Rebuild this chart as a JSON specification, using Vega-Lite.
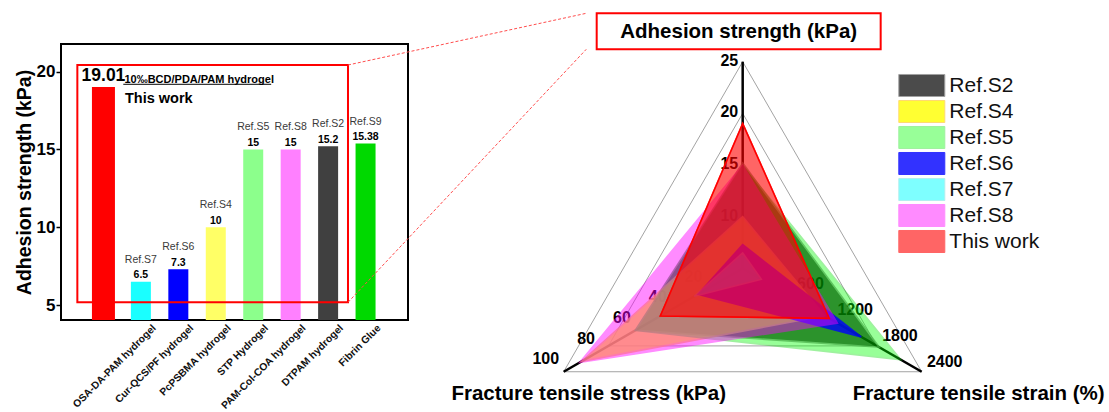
{
  "$schema": "https://vega.github.io/schema/vega-lite/v6.json",
  "autosize": "none",
  "padding": {"left": 61, "top": 44, "right": 701, "bottom": 92},
  "width": 347,
  "height": 276,
  "config": {
    "font": "Liberation Sans",
    "view": {"stroke": "#000000", "strokeWidth": 2},
    "text": {"font": "Liberation Sans"}
  },
  "datasets": {
    "bars": [
      {"idx": 1, "name": "", "ref": "This work", "value": 19.01, "desc": "10‰BCD/PDA/PAM hydrogel"},
      {"idx": 2, "name": "OSA-DA-PAM hydrogel", "ref": "Ref.S7", "value": 6.5},
      {"idx": 3, "name": "Cur-QCS/PF hydrogel", "ref": "Ref.S6", "value": 7.3},
      {"idx": 4, "name": "PcPSBMA hydrogel", "ref": "Ref.S4", "value": 10},
      {"idx": 5, "name": "STP Hydrogel", "ref": "Ref.S5", "value": 15},
      {"idx": 6, "name": "PAM-Col-COA hydrogel", "ref": "Ref.S8", "value": 15},
      {"idx": 7, "name": "DTPAM hydrogel", "ref": "Ref.S2", "value": 15.2},
      {"idx": 8, "name": "Fibrin Glue", "ref": "Ref.S9", "value": 15.38}
    ],
    "axes": [
      {"k": 0, "title": "Adhesion strength (kPa)"},
      {"k": 1, "title": "Fracture tensile stress (kPa)"},
      {"k": 2, "title": "Fracture tensile strain (%)"}
    ],
    "grid": [
      {"level": 0.75, "k": 0}, {"level": 0.75, "k": 1}, {"level": 0.75, "k": 2},
      {"level": 1, "k": 0}, {"level": 1, "k": 1}, {"level": 1, "k": 2}
    ],
    "ticks": [
      {"k": 0, "value": 10}, {"k": 0, "value": 15}, {"k": 0, "value": 20}, {"k": 0, "value": 25},
      {"k": 1, "value": 20}, {"k": 1, "value": 40}, {"k": 1, "value": 60}, {"k": 1, "value": 80}, {"k": 1, "value": 100},
      {"k": 2, "value": 600}, {"k": 2, "value": 1200}, {"k": 2, "value": 1800}, {"k": 2, "value": 2400}
    ],
    "radar": [
      {"series": "Ref.S2", "k": 0, "value": 15.2}, {"series": "Ref.S2", "k": 1, "value": 60}, {"series": "Ref.S2", "k": 2, "value": 1830},
      {"series": "Ref.S4", "k": 0, "value": 10}, {"series": "Ref.S4", "k": 1, "value": 90}, {"series": "Ref.S4", "k": 2, "value": 1100},
      {"series": "Ref.S5", "k": 0, "value": 15}, {"series": "Ref.S5", "k": 1, "value": 60}, {"series": "Ref.S5", "k": 2, "value": 2120},
      {"series": "Ref.S6", "k": 0, "value": 7.3}, {"series": "Ref.S6", "k": 1, "value": 25}, {"series": "Ref.S6", "k": 2, "value": 1590},
      {"series": "Ref.S7", "k": 0, "value": 6.5}, {"series": "Ref.S7", "k": 1, "value": 27}, {"series": "Ref.S7", "k": 2, "value": 250},
      {"series": "Ref.S8", "k": 0, "value": 15}, {"series": "Ref.S8", "k": 1, "value": 91}, {"series": "Ref.S8", "k": 2, "value": 1270},
      {"series": "This work", "k": 0, "value": 19.01}, {"series": "This work", "k": 1, "value": 46}, {"series": "This work", "k": 2, "value": 1160}
    ]
  },
  "layer": [
    {
      "layer": [
        {
          "data": {"name": "bars"},
          "transform": [{"filter": "datum.idx > 1"}],
          "mark": {"type": "bar", "width": 20, "clip": true},
          "encoding": {
            "x": {"field": "idx", "type": "quantitative", "scale": {"domain": [0, 9], "nice": false, "zero": false}, "axis": null},
            "y": {
              "field": "value", "type": "quantitative",
              "scale": {"domain": [4.036, 21.78], "nice": false, "zero": false},
              "title": "Adhesion strength (kPa)",
              "axis": {
                "values": [5, 10, 15, 20], "domain": false, "grid": false,
                "tickColor": "#000000", "tickWidth": 1.5, "tickSize": 5,
                "labelFont": "Liberation Sans", "labelFontWeight": "bold", "labelFontSize": 17, "labelColor": "#000000", "labelPadding": 1,
                "titleFont": "Liberation Sans", "titleFontWeight": "bold", "titleFontSize": 19.5, "titleColor": "#000000", "titlePadding": 2
              }
            },
            "color": {
              "field": "ref", "type": "nominal", "legend": null,
              "scale": {
                "domain": ["This work", "Ref.S7", "Ref.S6", "Ref.S4", "Ref.S5", "Ref.S8", "Ref.S2", "Ref.S9"],
                "range": ["#ff0000", "#1affff", "#0000ff", "#ffff66", "#8cff8c", "#ff80ff", "#404040", "#00d900"]
              }
            }
          }
        },
        {
          "data": {"name": "bars"},
          "transform": [{"filter": "datum.idx == 1"}],
          "mark": {"type": "bar", "width": 23, "clip": true},
          "encoding": {
            "x": {"field": "idx", "type": "quantitative", "scale": {"domain": [0, 9], "nice": false, "zero": false}, "axis": null},
            "y": {"field": "value", "type": "quantitative", "scale": {"domain": [4.036, 21.78], "nice": false, "zero": false}, "title": "Adhesion strength (kPa)"},
            "color": {"field": "ref", "type": "nominal", "legend": null}
          }
        },
        {
          "data": {"name": "bars"},
          "transform": [{"filter": "datum.idx > 1"}],
          "mark": {"type": "text", "fontSize": 10.5, "fontWeight": "bold", "baseline": "middle", "dy": -6.5, "color": "#000000"},
          "encoding": {
            "x": {"field": "idx", "type": "quantitative", "scale": {"domain": [0, 9], "nice": false, "zero": false}, "axis": null},
            "y": {"field": "value", "type": "quantitative", "scale": {"domain": [4.036, 21.78], "nice": false, "zero": false}, "title": "Adhesion strength (kPa)"},
            "text": {"field": "value", "type": "nominal"}
          }
        },
        {
          "data": {"name": "bars"},
          "transform": [{"filter": "datum.idx > 1"}],
          "mark": {"type": "text", "fontSize": 10.5, "baseline": "middle", "dy": -22, "color": "#3a3a3a"},
          "encoding": {
            "x": {"field": "idx", "type": "quantitative", "scale": {"domain": [0, 9], "nice": false, "zero": false}, "axis": null},
            "y": {"field": "value", "type": "quantitative", "scale": {"domain": [4.036, 21.78], "nice": false, "zero": false}, "title": "Adhesion strength (kPa)"},
            "text": {"field": "ref", "type": "nominal"}
          }
        },
        {
          "data": {"name": "bars"},
          "transform": [{"filter": "datum.idx == 1"}],
          "mark": {"type": "text", "fontSize": 17.5, "fontWeight": "bold", "baseline": "middle", "dy": -11, "color": "#000000"},
          "encoding": {
            "x": {"field": "idx", "type": "quantitative", "scale": {"domain": [0, 9], "nice": false, "zero": false}, "axis": null},
            "y": {"field": "value", "type": "quantitative", "scale": {"domain": [4.036, 21.78], "nice": false, "zero": false}, "title": "Adhesion strength (kPa)"},
            "text": {"field": "value", "type": "nominal"}
          }
        },
        {
          "data": {"name": "bars"},
          "transform": [{"filter": "datum.idx == 1"}],
          "mark": {"type": "text", "fontSize": 11, "fontWeight": "bold", "align": "left", "baseline": "middle", "dx": 21, "dy": -7.5, "color": "#000000"},
          "encoding": {
            "x": {"field": "idx", "type": "quantitative", "scale": {"domain": [0, 9], "nice": false, "zero": false}, "axis": null},
            "y": {"field": "value", "type": "quantitative", "scale": {"domain": [4.036, 21.78], "nice": false, "zero": false}, "title": "Adhesion strength (kPa)"},
            "text": {"field": "desc", "type": "nominal"}
          }
        },
        {
          "data": {"name": "bars"},
          "transform": [{"filter": "datum.idx == 1"}],
          "mark": {"type": "text", "fontSize": 14.5, "fontWeight": "bold", "align": "left", "baseline": "middle", "dx": 21.5, "dy": 12, "color": "#000000"},
          "encoding": {
            "x": {"field": "idx", "type": "quantitative", "scale": {"domain": [0, 9], "nice": false, "zero": false}, "axis": null},
            "y": {"field": "value", "type": "quantitative", "scale": {"domain": [4.036, 21.78], "nice": false, "zero": false}, "title": "Adhesion strength (kPa)"},
            "text": {"field": "ref", "type": "nominal"}
          }
        },
        {
          "data": {"values": [{"x0": 1.53, "x1": 5.48, "y0": 19.19}]},
          "mark": {"type": "rule", "stroke": "#000000", "strokeWidth": 1},
          "encoding": {
            "x": {"field": "x0", "type": "quantitative", "scale": {"domain": [0, 9], "nice": false, "zero": false}, "axis": null},
            "x2": {"field": "x1"},
            "y": {"field": "y0", "type": "quantitative", "scale": {"domain": [4.036, 21.78], "nice": false, "zero": false}, "title": "Adhesion strength (kPa)"}
          }
        },
        {
          "data": {"name": "bars"},
          "mark": {"type": "text", "fontSize": 10.3, "fontWeight": "bold", "angle": -45, "align": "right", "baseline": "top", "dx": 4.95, "dy": 9.19, "color": "#111111"},
          "encoding": {
            "x": {"field": "idx", "type": "quantitative", "scale": {"domain": [0, 9], "nice": false, "zero": false}, "axis": null},
            "y": {"datum": 4.036, "type": "quantitative", "scale": {"domain": [4.036, 21.78], "nice": false, "zero": false}},
            "text": {"field": "name", "type": "nominal"}
          }
        },
        {
          "data": {"values": [{"x0": 0.303, "x1": 7.531, "y0": 20.43, "y1": 5.174}]},
          "mark": {"type": "rect", "fillOpacity": 0, "stroke": "#ff0000", "strokeWidth": 2},
          "encoding": {
            "x": {"field": "x0", "type": "quantitative", "scale": {"domain": [0, 9], "nice": false, "zero": false}, "axis": null},
            "x2": {"field": "x1"},
            "y": {"field": "y0", "type": "quantitative", "scale": {"domain": [4.036, 21.78], "nice": false, "zero": false}, "title": "Adhesion strength (kPa)"},
            "y2": {"field": "y1"}
          }
        },
        {
          "data": {"values": [
            {"x0": 7.531, "y0": 20.43, "x1": 13.894, "y1": 23.754},
            {"x0": 7.531, "y0": 5.174, "x1": 13.894, "y1": 21.439}
          ]},
          "mark": {"type": "rule", "stroke": "#ff4d4d", "strokeWidth": 1, "strokeDash": [3, 2]},
          "encoding": {
            "x": {"field": "x0", "type": "quantitative", "scale": {"domain": [0, 9], "nice": false, "zero": false}, "axis": null},
            "x2": {"field": "x1"},
            "y": {"field": "y0", "type": "quantitative", "scale": {"domain": [4.036, 21.78], "nice": false, "zero": false}, "title": "Adhesion strength (kPa)"},
            "y2": {"field": "y1"}
          }
        }
      ]
    },
    {
      "layer": [
        {
          "data": {"name": "grid"},
          "transform": [
            {"calculate": "(90 + 120 * datum.k) * PI / 180", "as": "a"},
            {"calculate": "datum.level * cos(datum.a)", "as": "px"},
            {"calculate": "datum.level * sin(datum.a)", "as": "py"}
          ],
          "mark": {"type": "line", "interpolate": "linear-closed", "stroke": "#8c8c8c", "strokeWidth": 0.8},
          "encoding": {
            "x": {"field": "px", "type": "quantitative", "scale": {"domain": [-3.298, -1.6192], "nice": false, "zero": false}, "axis": null},
            "y": {"field": "py", "type": "quantitative", "scale": {"domain": [-0.2497, 1.0856], "nice": false, "zero": false}, "axis": null},
            "detail": {"field": "level", "type": "nominal"},
            "order": {"field": "k", "type": "quantitative"}
          }
        },
        {
          "data": {"name": "axes"},
          "transform": [
            {"calculate": "(90 + 120 * datum.k) * PI / 180", "as": "a"},
            {"calculate": "cos(datum.a)", "as": "px"},
            {"calculate": "sin(datum.a)", "as": "py"},
            {"calculate": "0", "as": "cx"},
            {"calculate": "0", "as": "cy"}
          ],
          "mark": {"type": "rule", "stroke": "#000000", "strokeWidth": 2.5},
          "encoding": {
            "x": {"field": "cx", "type": "quantitative", "scale": {"domain": [-3.298, -1.6192], "nice": false, "zero": false}, "axis": null},
            "y": {"field": "cy", "type": "quantitative", "scale": {"domain": [-0.2497, 1.0856], "nice": false, "zero": false}, "axis": null},
            "x2": {"field": "px"},
            "y2": {"field": "py"}
          }
        },
        {
          "data": {"name": "ticks"},
          "transform": [
            {"filter": "datum.k == 0"},
            {"calculate": "(datum.value - 5) / 20", "as": "f"},
            {"calculate": "(90 + 120 * datum.k) * PI / 180", "as": "a"},
            {"calculate": "datum.f * cos(datum.a)", "as": "px"},
            {"calculate": "datum.f * sin(datum.a)", "as": "py"}
          ],
          "mark": {"type": "text", "fontSize": 16, "fontWeight": "bold", "align": "right", "baseline": "middle", "dx": -4.5, "dy": -1, "color": "#000000"},
          "encoding": {
            "x": {"field": "px", "type": "quantitative", "scale": {"domain": [-3.298, -1.6192], "nice": false, "zero": false}, "axis": null},
            "y": {"field": "py", "type": "quantitative", "scale": {"domain": [-0.2497, 1.0856], "nice": false, "zero": false}, "axis": null},
            "text": {"field": "value", "type": "nominal"}
          }
        },
        {
          "data": {"name": "ticks"},
          "transform": [
            {"filter": "datum.k == 1"},
            {"calculate": "datum.value / 100", "as": "f"},
            {"calculate": "(90 + 120 * datum.k) * PI / 180", "as": "a"},
            {"calculate": "datum.f * cos(datum.a)", "as": "px"},
            {"calculate": "datum.f * sin(datum.a)", "as": "py"}
          ],
          "mark": {"type": "text", "fontSize": 16, "fontWeight": "bold", "align": "right", "baseline": "middle", "dx": -4.5, "dy": -12.5, "color": "#000000"},
          "encoding": {
            "x": {"field": "px", "type": "quantitative", "scale": {"domain": [-3.298, -1.6192], "nice": false, "zero": false}, "axis": null},
            "y": {"field": "py", "type": "quantitative", "scale": {"domain": [-0.2497, 1.0856], "nice": false, "zero": false}, "axis": null},
            "text": {"field": "value", "type": "nominal"}
          }
        },
        {
          "data": {"name": "ticks"},
          "transform": [
            {"filter": "datum.k == 2"},
            {"calculate": "datum.value / 2400", "as": "f"},
            {"calculate": "(90 + 120 * datum.k) * PI / 180", "as": "a"},
            {"calculate": "datum.f * cos(datum.a)", "as": "px"},
            {"calculate": "datum.f * sin(datum.a)", "as": "py"}
          ],
          "mark": {"type": "text", "fontSize": 16, "fontWeight": "bold", "align": "center", "baseline": "middle", "dx": 23, "dy": -10, "color": "#000000"},
          "encoding": {
            "x": {"field": "px", "type": "quantitative", "scale": {"domain": [-3.298, -1.6192], "nice": false, "zero": false}, "axis": null},
            "y": {"field": "py", "type": "quantitative", "scale": {"domain": [-0.2497, 1.0856], "nice": false, "zero": false}, "axis": null},
            "text": {"field": "value", "type": "nominal"}
          }
        },
        {
          "data": {"name": "radar"},
          "transform": [
            {"calculate": "datum.k == 0 ? (datum.value - 5) / 20 : datum.k == 1 ? datum.value / 100 : datum.value / 2400", "as": "f"},
            {"calculate": "(90 + 120 * datum.k) * PI / 180", "as": "a"},
            {"calculate": "datum.f * cos(datum.a)", "as": "px"},
            {"calculate": "datum.f * sin(datum.a)", "as": "py"}
          ],
          "mark": {"type": "line", "interpolate": "linear-closed", "filled": true, "strokeWidth": 1.6},
          "encoding": {
            "x": {"field": "px", "type": "quantitative", "scale": {"domain": [-3.298, -1.6192], "nice": false, "zero": false}, "axis": null},
            "y": {"field": "py", "type": "quantitative", "scale": {"domain": [-0.2497, 1.0856], "nice": false, "zero": false}, "axis": null},
            "order": {"field": "k", "type": "quantitative"},
            "fill": {
              "field": "series", "type": "nominal",
              "scale": {
                "domain": ["Ref.S2", "Ref.S4", "Ref.S5", "Ref.S6", "Ref.S7", "Ref.S8", "This work"],
                "range": ["#000000", "#ffff00", "#00ff00", "#0000ff", "#00ffff", "#ff00ff", "#ff0000"]
              },
              "legend": {
                "title": null, "orient": "none", "legendX": 848.8, "legendY": 29.5, "padding": 0,
                "symbolType": "M-2,-0.957H2V0.957H-2Z", "symbolSize": 529,
                "symbolStrokeColor": "#9a9a9a", "symbolStrokeWidth": 1,
                "labelFont": "Liberation Sans", "labelFontSize": 21, "labelColor": "#111111",
                "labelOffset": 15.5, "rowPadding": -2.4, "labelLimit": 300
              }
            },
            "opacity": {
              "field": "series", "type": "nominal",
              "scale": {
                "type": "ordinal",
                "domain": ["Ref.S2", "Ref.S4", "Ref.S5", "Ref.S6", "Ref.S7", "Ref.S8", "This work"],
                "range": [0.7, 0.8, 0.4, 0.8, 0.5, 0.45, 0.6]
              },
              "legend": {
                "title": null, "orient": "none", "legendX": 848.8, "legendY": 29.5, "padding": 0,
                "symbolType": "M-2,-0.957H2V0.957H-2Z", "symbolSize": 529,
                "symbolStrokeColor": "#9a9a9a", "symbolStrokeWidth": 1,
                "labelFont": "Liberation Sans", "labelFontSize": 21, "labelColor": "#111111",
                "labelOffset": 15.5, "rowPadding": -2.4, "labelLimit": 300
              }
            },
            "stroke": {
              "field": "series", "type": "nominal", "legend": null,
              "scale": {
                "domain": ["Ref.S2", "Ref.S4", "Ref.S5", "Ref.S6", "Ref.S7", "Ref.S8", "This work"],
                "range": ["#7a7a7a", "#ffd24d", "#11dd11", "#0000ff", "#66e0e0", "#ff00ff", "#ff0000"]
              }
            }
          }
        },
        {
          "data": {"name": "radar"},
          "transform": [
            {"filter": "datum.series == 'This work'"},
            {"calculate": "datum.k == 0 ? (datum.value - 5) / 20 : datum.k == 1 ? datum.value / 100 : datum.value / 2400", "as": "f"},
            {"calculate": "(90 + 120 * datum.k) * PI / 180", "as": "a"},
            {"calculate": "datum.f * cos(datum.a)", "as": "px"},
            {"calculate": "datum.f * sin(datum.a)", "as": "py"}
          ],
          "mark": {"type": "line", "interpolate": "linear-closed", "strokeWidth": 1.6},
          "encoding": {
            "x": {"field": "px", "type": "quantitative", "scale": {"domain": [-3.298, -1.6192], "nice": false, "zero": false}, "axis": null},
            "y": {"field": "py", "type": "quantitative", "scale": {"domain": [-0.2497, 1.0856], "nice": false, "zero": false}, "axis": null},
            "order": {"field": "k", "type": "quantitative"},
            "stroke": {"field": "series", "type": "nominal", "legend": null}
          }
        },
        {
          "data": {"name": "axes"},
          "transform": [
            {"filter": "datum.k == 0"},
            {"calculate": "(90 + 120 * datum.k) * PI / 180", "as": "a"},
            {"calculate": "cos(datum.a)", "as": "px"},
            {"calculate": "sin(datum.a)", "as": "py"}
          ],
          "mark": {"type": "text", "fontSize": 20.5, "fontWeight": "bold", "baseline": "middle", "dx": -4, "dy": -30, "color": "#000000"},
          "encoding": {
            "x": {"field": "px", "type": "quantitative", "scale": {"domain": [-3.298, -1.6192], "nice": false, "zero": false}, "axis": null},
            "y": {"field": "py", "type": "quantitative", "scale": {"domain": [-0.2497, 1.0856], "nice": false, "zero": false}, "axis": null},
            "text": {"field": "title", "type": "nominal"}
          }
        },
        {
          "data": {"name": "axes"},
          "transform": [
            {"filter": "datum.k == 1"},
            {"calculate": "(90 + 120 * datum.k) * PI / 180", "as": "a"},
            {"calculate": "cos(datum.a)", "as": "px"},
            {"calculate": "sin(datum.a)", "as": "py"}
          ],
          "mark": {"type": "text", "fontSize": 20.5, "fontWeight": "bold", "baseline": "middle", "dx": 25, "dy": 22.3, "color": "#000000"},
          "encoding": {
            "x": {"field": "px", "type": "quantitative", "scale": {"domain": [-3.298, -1.6192], "nice": false, "zero": false}, "axis": null},
            "y": {"field": "py", "type": "quantitative", "scale": {"domain": [-0.2497, 1.0856], "nice": false, "zero": false}, "axis": null},
            "text": {"field": "title", "type": "nominal"}
          }
        },
        {
          "data": {"name": "axes"},
          "transform": [
            {"filter": "datum.k == 2"},
            {"calculate": "(90 + 120 * datum.k) * PI / 180", "as": "a"},
            {"calculate": "cos(datum.a)", "as": "px"},
            {"calculate": "sin(datum.a)", "as": "py"}
          ],
          "mark": {"type": "text", "fontSize": 20.5, "fontWeight": "bold", "baseline": "middle", "dx": 57, "dy": 22.3, "color": "#000000"},
          "encoding": {
            "x": {"field": "px", "type": "quantitative", "scale": {"domain": [-3.298, -1.6192], "nice": false, "zero": false}, "axis": null},
            "y": {"field": "py", "type": "quantitative", "scale": {"domain": [-0.2497, 1.0856], "nice": false, "zero": false}, "axis": null},
            "text": {"field": "title", "type": "nominal"}
          }
        },
        {
          "data": {"values": [{"x0": -0.7063, "x1": 0.6676, "y0": 1.2342, "y1": 1.06}]},
          "mark": {"type": "rect", "fillOpacity": 0, "stroke": "#ff0000", "strokeWidth": 2},
          "encoding": {
            "x": {"field": "x0", "type": "quantitative", "scale": {"domain": [-3.298, -1.6192], "nice": false, "zero": false}, "axis": null},
            "x2": {"field": "x1"},
            "y": {"field": "y0", "type": "quantitative", "scale": {"domain": [-0.2497, 1.0856], "nice": false, "zero": false}, "axis": null},
            "y2": {"field": "y1"}
          }
        }
      ]
    }
  ],
  "resolve": {"scale": {"x": "independent", "y": "independent"}}
}
